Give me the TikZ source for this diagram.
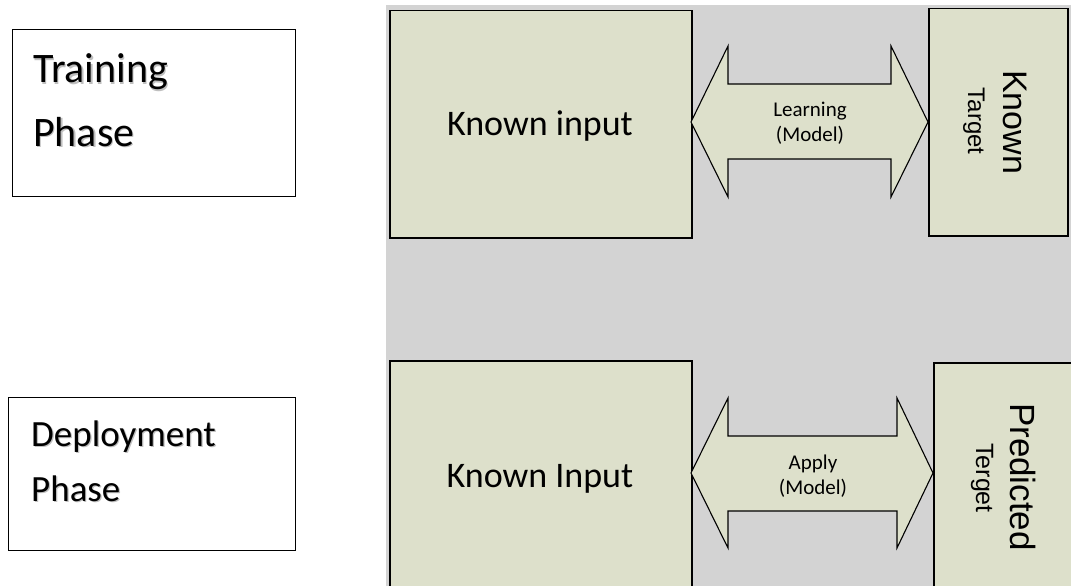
\documentclass[tikz,border=0pt]{standalone}
\usepackage{fontspec}
\setmainfont{Carlito}
\newfontfamily\arialf{Liberation Sans}
\definecolor{boxfill}{RGB}{221,224,203}
\definecolor{bggray}{RGB}{211,211,211}
\begin{document}
\begin{tikzpicture}[x=1pt,y=-1pt,
  phasebox/.style={draw=black, line width=1.3pt, fill=white, inner sep=0pt, anchor=north west},
  databox/.style={draw=black, line width=1.5pt, fill=boxfill, inner sep=0pt, anchor=north west},
  bigarrow/.style={draw=black, line width=1.1pt, fill=boxfill, line join=miter},
  phasetext/.style={inner sep=0pt, anchor=base west, text=black},
  phaseshadow/.style={inner sep=0pt, anchor=base west, text=black!25},
  bigtext/.style={inner sep=0pt, anchor=base, font=\fontsize{36}{43}\selectfont},
  arrowtext/.style={inner sep=0pt, anchor=base, font=\fontsize{21}{25}\selectfont},
  sidetext/.style={inner sep=0pt, anchor=base, rotate=-90}]
\clip (0,0) rectangle (1071,586);
\fill[white] (0,0) rectangle (1071,586);
\fill[bggray] (386,5) rectangle (1080,600);

% phase boxes
\node[phasebox, minimum width=283pt, minimum height=167pt] (train) at (12,29) {};
\node[phaseshadow, font=\fontsize{42}{50}\selectfont] (train1s) at (34.2,84.2) {Training};
\node[phaseshadow, font=\fontsize{42}{50}\selectfont] (train2s) at (34.2,147.2) {Phase};
\node[phasetext, font=\fontsize{42}{50}\selectfont] (train1) at (33,83) {Training};
\node[phasetext, font=\fontsize{42}{50}\selectfont] (train2) at (33,146) {Phase};

\node[phasebox, minimum width=287pt, minimum height=153pt] (deploy) at (8,397) {};
\node[phaseshadow, font=\fontsize{37}{44}\selectfont] (deploy1s) at (32.2,447.2) {Deployment};
\node[phaseshadow, font=\fontsize{37}{44}\selectfont] (deploy2s) at (32.2,502.2) {Phase};
\node[phasetext, font=\fontsize{37}{44}\selectfont] (deploy1) at (31,446) {Deployment};
\node[phasetext, font=\fontsize{37}{44}\selectfont] (deploy2) at (31,501) {Phase};

% training row
\node[databox, minimum width=302pt, minimum height=227pt] (ki1) at (389,10) {};
\node[bigtext] (ki1t) at (540,135) {Known input};
\node[databox, minimum width=139pt, minimum height=227pt] (kt) at (928,8) {};
\node[sidetext, font=\arialf\fontsize{34}{40}\selectfont] (kt1) at (1003,122) {Known};
\node[sidetext, font=\arialf\fontsize{24}{28}\selectfont] (kt2) at (968,121) {Target};

\draw[bigarrow] (691,122) -- (728,46) -- (728,84) -- (891,84) -- (891,46) -- (928,122)
  -- (891,197) -- (891,159) -- (728,159) -- (728,197) -- cycle;
\node[arrowtext] (l1) at (810,117) {Learning};
\node[arrowtext] (l2) at (810,141) {(Model)};

% deployment row
\node[databox, minimum width=302pt, minimum height=250pt] (ki2) at (389,360) {};
\node[bigtext] (ki2t) at (540,487) {Known Input};
\node[databox, minimum width=160pt, minimum height=250pt] (pt) at (933,362) {};
\node[sidetext, font=\arialf\fontsize{35}{40}\selectfont] (pt1) at (1010,477) {Predicted};
\node[sidetext, font=\arialf\fontsize{25}{30}\selectfont] (pt2) at (976,478) {Terget};

\draw[bigarrow] (691,473) -- (728,398) -- (728,436) -- (897,436) -- (897,398) -- (933,473)
  -- (897,548) -- (897,511) -- (728,511) -- (728,548) -- cycle;
\node[arrowtext] (a1) at (813,469) {Apply};
\node[arrowtext] (a2) at (813,494) {(Model)};
\end{tikzpicture}
\end{document}
